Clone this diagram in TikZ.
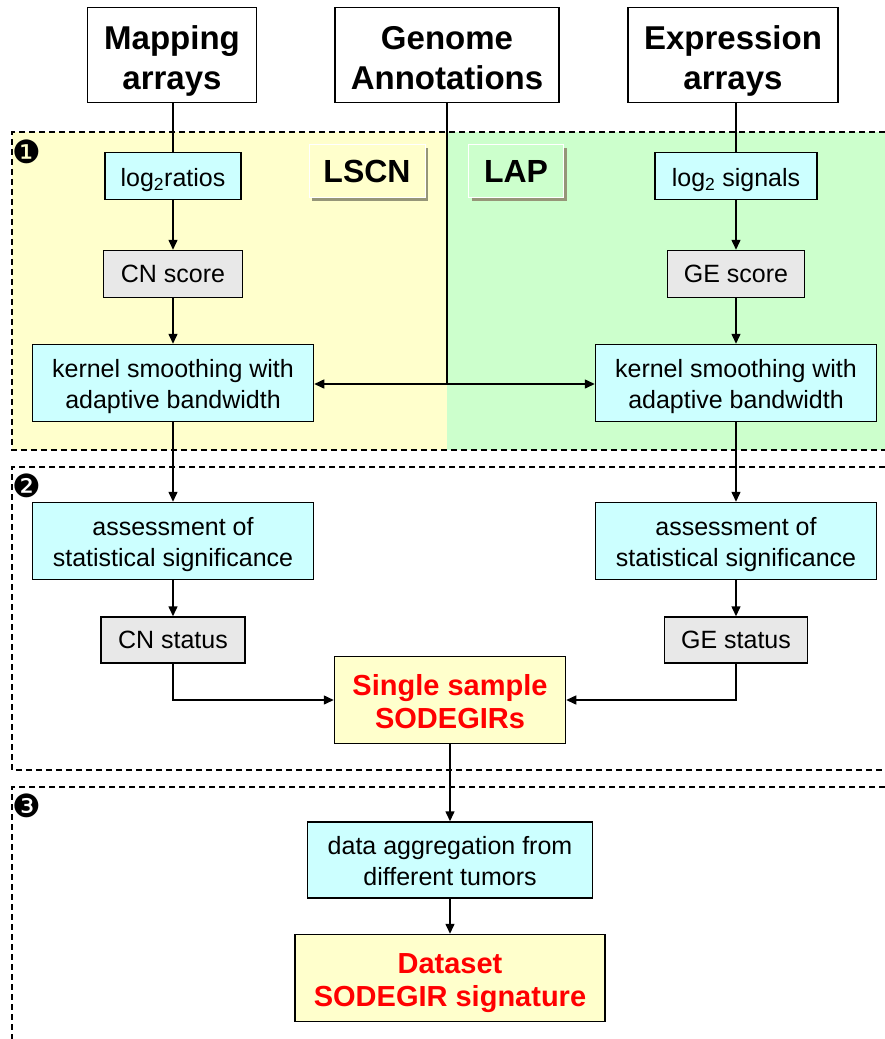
\documentclass[tikz,border=0pt]{standalone}
\usepackage{fontspec}
\setmainfont{Liberation Sans}
\newfontfamily\dingfont{DejaVu Sans}
\usepackage{tikz}
\usetikzlibrary{arrows.meta,shadows}
\definecolor{lyellow}{RGB}{255, 255, 204}
\definecolor{lgreen}{RGB}{204, 255, 204}
\definecolor{lcyan}{RGB}{204, 255, 255}
\definecolor{lgray}{RGB}{232, 232, 232}
\definecolor{sgray}{RGB}{150, 150, 120}
\newcommand\lift[1]{\rule{0pt}{#1em}}
\tikzset{
  topbox/.style = {draw, line width=1.5pt, fill=white, align=center,
    font=\fontsize{33}{40}\selectfont\bfseries},
  procbox/.style = {draw, line width=1.5pt, fill=lcyan, align=center,
    font=\fontsize{25}{31}\selectfont},
  scorebox/.style = {draw, line width=1.5pt, fill=lgray, align=center,
    font=\fontsize{25}{31}\selectfont},
  resbox/.style = {draw, line width=1.5pt, fill=lyellow, align=center,
    text=red, font=\fontsize{29}{33}\selectfont\bfseries},
  tagbox/.style = {draw=white, line width=1pt, align=center,
    drop shadow={shadow xshift=3pt, shadow yshift=-3pt, fill=sgray, opacity=1},
    font=\fontsize{32}{36}\selectfont\bfseries},
  num/.style = {font=\fontsize{32}{32}\selectfont\dingfont},
  arr/.style = {line width=1.5pt, -{Triangle[length=10pt, width=9pt]}},
  ln/.style = {line width=1.5pt},
  panel/.style = {dashed, line width=1.2pt, dash pattern=on 6pt off 4pt}
}

\begin{document}
\begin{tikzpicture}[x=1pt, y=-1pt]
			\useasboundingbox (0,0) rectangle (885,1039);
			% panels
			\fill[lyellow] (12,132) rectangle (447,450);
			\fill[lgreen] (447,132) rectangle (885,450);
			\draw[panel] (885,132) -- (12,132) -- (12,450) -- (885,450);
			\draw[panel] (885,467) -- (12,467) -- (12,770) -- (885,770);
			\draw[panel] (885,787) -- (12,787) -- (12,1039);
			\node (n1) at (27,152) [num] {❶};
			\node (n2) at (27,486) [num] {❷};
			\node (n3) at (27,806) [num] {❸};
			\node (lscn) at (367,171) [tagbox, fill=lyellow, minimum width=116, minimum height=53] {LSCN};
			\node (lap) at (516,171) [tagbox, fill=lgreen, minimum width=95, minimum height=53] {LAP};
			% inputs
			\node (map) at (172,55) [topbox, minimum width=169, minimum height=95] {\lift{1.1}Mapping\\arrays};
			\node (gen) at (447,55) [topbox, minimum width=224, minimum height=95] {\lift{0.9}Genome\\Annotations};
			\node (expr) at (733,55) [topbox, minimum width=210, minimum height=95] {\lift{1.1}Expression\\arrays};
			% left branch
			\node (lr) at (173,176) [procbox, minimum width=136, minimum height=47] {\lift{1.04}log\textsubscript{2}ratios};
			\node (cns) at (173,274) [scorebox, minimum width=139, minimum height=47] {CN score};
			\node (ksl) at (173,383) [procbox, minimum width=281, minimum height=77] {\lift{1.04}kernel smoothing with\\adaptive bandwidth};
			\node (asl) at (173,541) [procbox, minimum width=281, minimum height=77] {\lift{1.04}assessment of\\statistical significance};
			\node (cnst) at (173,640) [scorebox, minimum width=144, minimum height=46] {CN status};
			% right branch
			\node (ls) at (736,176) [procbox, minimum width=162, minimum height=47] {\lift{1.04}log\textsubscript{2} signals};
			\node (ges) at (736,274) [scorebox, minimum width=137, minimum height=47] {GE score};
			\node (ksr) at (736,383) [procbox, minimum width=281, minimum height=77] {\lift{1.04}kernel smoothing with\\adaptive bandwidth};
			\node (asr) at (736,541) [procbox, minimum width=281, minimum height=77] {\lift{1.04}assessment of\\statistical significance};
			\node (gest) at (736,640) [scorebox, minimum width=143, minimum height=46] {GE status};
			% results
			\node (ss) at (450,700) [resbox, minimum width=231, minimum height=87] {\lift{0.85}Single sample\\SODEGIRs};
			\node (agg) at (450,860) [procbox, minimum width=285, minimum height=76] {\lift{0.8}data aggregation from\\different tumors};
			\node (ds) at (450,978) [resbox, minimum width=310, minimum height=87] {\lift{1.05}Dataset\\SODEGIR signature};
			\coordinate (jn) at (447,384);
			\draw[ln] (map.south -| lr) -- (lr);
			\draw[arr] (lr) -- (cns);
			\draw[arr] (cns) -- (ksl);
			\draw[arr] (ksl) -- (asl);
			\draw[arr] (asl) -- (cnst);
			\draw[ln] (expr.south -| ls) -- (ls);
			\draw[arr] (ls) -- (ges);
			\draw[arr] (ges) -- (ksr);
			\draw[arr] (ksr) -- (asr);
			\draw[arr] (asr) -- (gest);
			\draw[ln] (gen) -- (jn);
			\draw[arr] (jn) -- (ksl.east |- jn);
			\draw[arr] (jn) -- (ksr.west |- jn);
			\draw[arr] (cnst) |- (ss);
			\draw[arr] (gest) |- (ss);
			\draw[arr] (ss) -- (agg);
			\draw[arr] (agg) -- (ds);
			\end{tikzpicture}
\end{document}
